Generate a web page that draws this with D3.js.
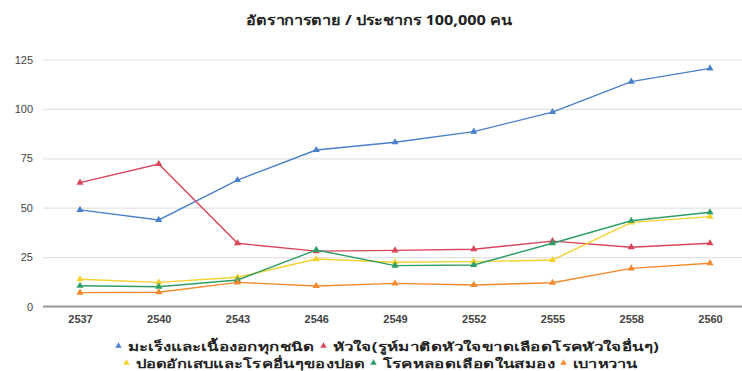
<!DOCTYPE html>
<html>
<head>
<meta charset="utf-8">
<script src="https://cdn.jsdelivr.net/npm/d3@7"></script>
<style>
  html, body { margin: 0; padding: 0; background: #fff; }
  svg { display: block; font-family: "Noto Sans", "DejaVu Sans", "Liberation Sans", sans-serif; }
</style>
</head>
<body>
<svg id="chart" width="742" height="371"></svg>
<script>
// Death rate per 100,000 population, by Buddhist-era year
const years = ["2537", "2540", "2543", "2546", "2549", "2552", "2555", "2558", "2560"];
const cancer = [48.9, 43.8, 64.0, 79.2, 83.1, 88.5, 98.4, 113.8, 120.5];
const heart = [62.7, 72.1, 32.0, 28.0, 28.4, 29.0, 33.1, 30.0, 32.0];
const lung = [13.8, 12.2, 14.8, 24.0, 22.4, 22.7, 23.5, 42.6, 45.5];
const stroke = [10.5, 10.0, 13.4, 28.6, 20.7, 21.0, 32.0, 43.4, 47.7];
const diabetes = [7.0, 7.2, 12.2, 10.4, 11.7, 10.9, 12.0, 19.3, 21.9];
const seriesNames = [
  "มะเร็งและเนื้องอกทุกชนิด",
  "หัวใจ(รูห์มาติดหัวใจขาดเลือดโรคหัวใจอื่นๆ)",
  "ปอดอักเสบและโรคอื่นๆของปอด",
  "โรคหลอดเลือดในสมอง",
  "เบาหวาน"
];
const yTicks = [0, 25, 50, 75, 100, 125];
const titleText = "อัตราการตาย / ประชากร 100,000 คน";

// Styling
const colors = ["#4a7fcb", "#d9465a", "#f3d22e", "#2e9e68", "#f3892c"];
const legendTextWidths = [182, 323, 224, 167, 67];
const titleWidth = 268;

const seriesValues = [cancer, heart, lung, stroke, diabetes];
const series = seriesNames.map((name, i) => ({ name, values: seriesValues[i], color: colors[i] }));

const svg = d3.select("#chart");
const W = 742;

// Stretch a text horizontally to a given width while keeping glyph shaping intact
function fitWidth(sel, w, tx, ty, anchorMiddle) {
  const len = sel.node().getComputedTextLength();
  const sx = w / len;
  sel.attr("transform", `translate(${tx},${ty}) scale(${sx},1)`);
  if (anchorMiddle) sel.attr("text-anchor", "middle");
}

const x = d3.scalePoint().domain(years).range([80, 710]);
const y = d3.scaleLinear().domain([0, 125]).range([306.5, 59.5]);

// Title
const title = svg.append("text")
  .attr("font-size", 13.5).attr("font-weight", "bold").attr("fill", "#222")
  .text(titleText);
fitWidth(title, titleWidth, 379, 25, true);

// Horizontal gridlines and y labels
const yAxis = svg.append("g").attr("transform", "translate(43,0)")
  .call(d3.axisLeft(y).tickValues(yTicks).tickSize(-(W - 43)).tickPadding(10));
yAxis.select(".domain").remove();
yAxis.selectAll(".tick line").attr("stroke", "#e3e3e3").attr("stroke-width", 1.2);
yAxis.selectAll(".tick text")
  .attr("font-size", 11).attr("fill", "#444").attr("font-family", "Liberation Sans, Arial, sans-serif");

// Baseline
svg.append("line")
  .attr("x1", 43).attr("x2", W)
  .attr("y1", y(0)).attr("y2", y(0))
  .attr("stroke", "#999").attr("stroke-width", 2);

// X axis labels
const xAxis = svg.append("g").attr("transform", `translate(0,${y(0)})`)
  .call(d3.axisBottom(x).tickSize(0).tickPadding(9));
xAxis.select(".domain").remove();
xAxis.selectAll(".tick text")
  .attr("font-size", 11).attr("font-weight", "bold").attr("fill", "#444")
  .attr("font-family", "Liberation Sans, Arial, sans-serif");

// Lines with triangle markers
const line = d3.line().x((d, i) => x(years[i])).y(d => y(d));
const tri = d3.symbol().type(d3.symbolTriangle).size(22);

series.forEach(s => {
  const g = svg.append("g");
  g.append("path")
    .attr("d", line(s.values))
    .attr("fill", "none")
    .attr("stroke", s.color)
    .attr("stroke-width", 1.4);
  g.selectAll("path.pt").data(s.values).enter().append("path")
    .attr("class", "pt")
    .attr("d", tri)
    .attr("transform", (d, i) => `translate(${x(years[i])},${y(d)})`)
    .attr("fill", s.color);
});

// Legend (two centred rows)
const legendRows = [[0, 1], [2, 3, 4]];
const legendY = [346, 363];
const legendCx = [385, 381];
const legend = svg.append("g");
legendRows.forEach((row, r) => {
  const rowG = legend.append("g");
  let cx = 0;
  row.forEach(idx => {
    const item = rowG.append("g").attr("transform", `translate(${cx},0)`);
    item.append("path").attr("d", d3.symbol().type(d3.symbolTriangle).size(18))
      .attr("transform", "translate(4,0)").attr("fill", series[idx].color);
    const t = item.append("text")
      .attr("font-size", 12).attr("font-weight", "bold").attr("fill", "#222")
      .text(series[idx].name);
    fitWidth(t, legendTextWidths[idx], 13, 4.5, false);
    cx += 13 + legendTextWidths[idx] + 10;
  });
  const rowW = cx - 10;
  rowG.attr("transform", `translate(${legendCx[r] - rowW / 2},${legendY[r]})`);
});
</script>
</body>
</html>
